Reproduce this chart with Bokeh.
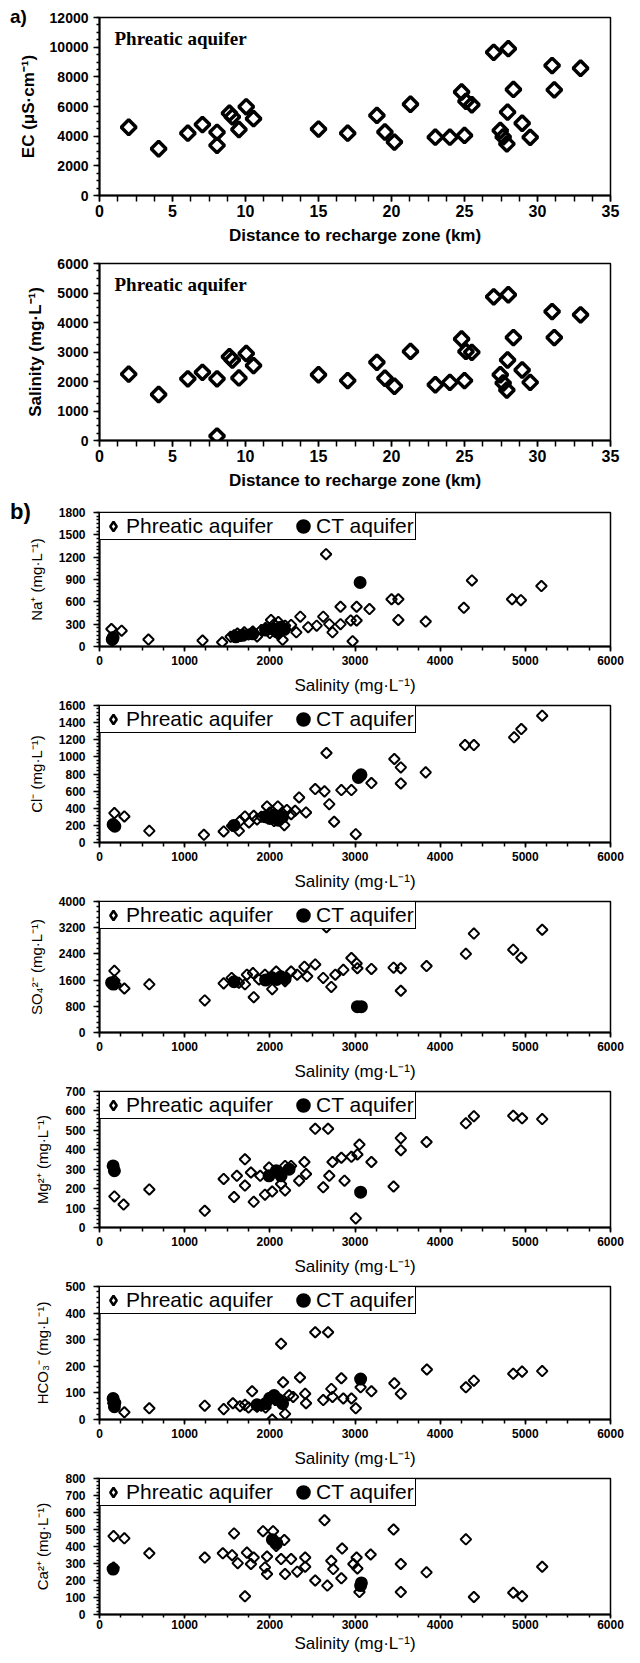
import numpy as np
from bokeh.plotting import figure
from bokeh.models import Range1d, SingleIntervalTicker, Label, Legend, LegendItem, Div
from bokeh.layouts import column
from bokeh.embed import file_html
from bokeh.resources import INLINE

SANS = "Liberation Sans"
SERIF = "Liberation Serif"

# ---------------- data: panel a ----------------
dist_km = [2.0, 4.05, 6.05, 7.05, 8.05, 8.05, 8.9, 9.1, 9.55, 10.05, 10.55, 15.0, 17.0, 19.0, 19.55,
           20.2, 21.3, 23.0, 24.0, 25.0, 24.8, 25.1, 25.5, 27.0, 28.0, 28.35, 27.95, 27.45, 27.65,
           27.9, 28.95, 29.5, 31.0, 31.15, 32.95]
ec_us = [4600, 3150, 4200, 4780, 4260, 3380, 5550, 5300, 4450, 5980, 5180, 4480, 4200, 5400, 4280,
         3600, 6150, 3930, 3930, 4050, 6980, 6350, 6120, 9650, 9900, 7150, 5620, 4380, 3950,
         3480, 4870, 3920, 8760, 7120, 8580]
sal_a = [2250, 1560, 2090, 2310, 2090, 150, 2840, 2730, 2120, 2950, 2540, 2230, 2030, 2650, 2110,
         1840, 3020, 1890, 1970, 2030, 3440, 3020, 2990, 4870, 4940, 3490, 2730, 2230, 1950,
         1710, 2390, 1970, 4370, 3490, 4260]

# ---------------- data: panel b ----------------
na_sal = [140, 260, 150, 575, 1210, 1440, 1540, 1580, 1620, 1660, 1700, 1750, 1800, 1850, 1900, 1950,
          2000, 2014, 2050, 2100, 2100, 2150, 2180, 2250, 2311, 2358, 2450, 2550, 2627, 2660, 2698,
          2736, 2830, 2830, 2950, 2972, 3019, 3019, 3170, 3429, 3509, 3509, 3830, 4278, 4373, 4844,
          4948, 5189]
na_val = [235, 212, 85, 93, 80, 57, 130, 150, 175, 140, 190, 160, 200, 135, 220, 250,
          180, 357, 300, 160, 330, 90, 280, 290, 190, 401, 260, 280, 401, 1240, 300,
          190, 534, 300, 350, 71, 534, 350, 503, 635, 635, 357, 335, 520, 887, 635,
          622, 812]
na_ct_sal = [150, 160, 1600, 1680, 1800, 1950, 2030, 2080, 2130, 2170, 3060]
na_ct_val = [95, 120, 130, 150, 170, 220, 240, 200, 260, 230, 860]

cl_sal = [175, 175, 292, 585, 1226, 1458, 1557, 1637, 1650, 1708, 1755, 1811, 1850, 1900, 1967, 2000,
          2050, 2094, 2150, 2170, 2200, 2250, 2297, 2344, 2425, 2533, 2642, 2665, 2698, 2755, 2840,
          2958, 3009, 3193, 3462, 3538, 3538, 3830, 4292, 4396, 4868, 4953, 5198]
cl_val = [343, 195, 304, 136, 90, 129, 195, 136, 250, 304, 234, 312, 270, 300, 421, 350,
          250, 421, 340, 203, 380, 330, 370, 526, 351, 624, 597, 1045, 448, 242, 612,
          612, 97, 694, 975, 877, 690, 819, 1138, 1138, 1228, 1325, 1481]
cl_ct_sal = [160, 180, 1580, 1950, 2000, 2050, 2100, 2150, 3040, 3070]
cl_ct_val = [210, 190, 200, 300, 280, 320, 260, 300, 760, 790]

so4_sal = [175, 175, 189, 292, 585, 1236, 1458, 1552, 1637, 1708, 1731, 1811, 1802, 1873, 1943, 2028,
           2075, 2179, 2250, 2321, 2406, 2439, 2533, 2627, 2665, 2722, 2769, 2863, 2958, 3019, 3028,
           3193, 3453, 3538, 3538, 3840, 4302, 4396, 4858, 4953, 5198]
so4_val = [1882, 1588, 1470, 1343, 1470, 980, 1500, 1667, 1520, 1470, 1765, 1078, 1814, 1618, 1765, 1324,
           1863, 1569, 1863, 1765, 2010, 1716, 2078, 1667, 3216, 1392, 1765, 1912, 2275, 2108, 1961,
           1941, 1980, 1961, 1275, 2029, 2402, 3020, 2529, 2284, 3137]
so4_ct_sal = [142, 160, 1580, 1950, 2020, 2080, 2130, 2180, 3028, 3075]
so4_ct_val = [1520, 1480, 1550, 1600, 1680, 1620, 1700, 1650, 790, 790]

mg_sal = [175, 283, 585, 1236, 1458, 1580, 1613, 1708, 1708, 1778, 1811, 1887, 1943, 1991, 2028, 2132,
          2179, 2179, 2250, 2344, 2406, 2425, 2533, 2684, 2627, 2698, 2736, 2840, 2877, 2958, 3052,
          3028, 3009, 3193, 3453, 3538, 3538, 3840, 4302, 4396, 4858, 4962, 5198]
mg_val = [160, 118, 196, 86, 250, 157, 266, 351, 216, 283, 132, 266, 169, 309, 185, 224,
          191, 317, 317, 241, 337, 275, 508, 508, 207, 266, 337, 359, 241, 364, 427,
          376, 47, 337, 211, 460, 398, 440, 536, 573, 575, 562, 558]
mg_ct_sal = [160, 175, 1991, 2075, 2132, 2226, 3066]
mg_ct_val = [317, 292, 266, 292, 266, 300, 182]

hco3_sal = [160, 292, 585, 1236, 1458, 1566, 1650, 1708, 1750, 1792, 1850, 1900, 1950, 2028, 2061, 2132,
            2156, 2179, 2226, 2274, 2354, 2415, 2425, 2533, 2684, 2627, 2722, 2736, 2840, 2863, 2958,
            3009, 3066, 3193, 3462, 3538, 3844, 4302, 4396, 4858, 4962, 5198]
hco3_val = [61, 27, 42, 52, 39, 61, 50, 55, 45, 106, 48, 52, 45, 0, 73, 285,
            140, 21, 91, 85, 158, 97, 61, 328, 328, 73, 115, 85, 155, 79, 79,
            42, 121, 106, 136, 97, 188, 121, 146, 172, 180, 182]
hco3_ct_sal = [160, 175, 180, 1850, 1950, 2000, 2050, 2100, 2150, 3066]
hco3_ct_val = [79, 48, 62, 55, 60, 80, 90, 75, 60, 152]

ca_sal = [165, 165, 292, 585, 1236, 1448, 1580, 1557, 1623, 1731, 1708, 1778, 1811, 1920, 1943, 1967,
          1967, 2038, 2038, 2075, 2132, 2170, 2179, 2250, 2321, 2415, 2415, 2533, 2642, 2675, 2722,
          2745, 2849, 2840, 2981, 3019, 3028, 3052, 3184, 3453, 3538, 3538, 3840, 4302, 4396, 4858,
          4962, 5198]
ca_val = [461, 277, 448, 360, 335, 360, 477, 349, 302, 364, 107, 297, 335, 490, 277, 341,
          238, 490, 432, 403, 326, 438, 238, 326, 252, 335, 281, 200, 554, 170, 316,
          267, 388, 213, 297, 335, 271, 132, 353, 500, 297, 132, 248, 442, 103, 128,
          107, 281]
ca_ct_sal = [160, 2030, 2080, 3066, 3075]
ca_ct_val = [267, 440, 420, 170, 186]

W = 640


def base(width, height, top, bottom, left, right, xr, yr):
    p = figure(width=width, height=height, x_range=Range1d(*xr), y_range=Range1d(*yr),
               min_border_left=left, min_border_right=right, min_border_top=top,
               min_border_bottom=bottom, output_backend="svg", toolbar_location=None)
    p.xgrid.grid_line_color = None
    p.ygrid.grid_line_color = None
    p.outline_line_color = "black"
    p.outline_line_width = 1.5
    p.outline_line_alpha = 1.0
    p.background_fill_color = "white"
    p.border_fill_color = "white"
    for ax in (p.xaxis, p.yaxis):
        ax.axis_line_width = 2
        ax.axis_line_color = "black"
        ax.major_tick_line_width = 1.5
        ax.minor_tick_line_width = 1.5
        ax.major_tick_line_color = "black"
        ax.minor_tick_line_color = "black"
        ax.major_tick_in = 0
        ax.minor_tick_in = 0
        ax.major_label_text_color = "black"
        ax.axis_label_text_color = "black"
    return p


def panel_a(x, y, ymax, yint, yminor, ylabel, height, top, frame_h, bottom):
    p = base(W, height, top, bottom, 99, 20, (0, 35), (0, ymax))
    p.scatter(x, y, marker="square", angle=np.pi / 4, size=10.5, fill_color=None,
              line_color="black", line_width=3.5)
    p.xaxis.ticker = SingleIntervalTicker(interval=5, num_minor_ticks=4)
    p.yaxis.ticker = SingleIntervalTicker(interval=yint, num_minor_ticks=yminor)
    p.xaxis.major_tick_out = 6
    p.xaxis.minor_tick_out = 6
    p.yaxis.major_tick_out = 6
    p.yaxis.minor_tick_out = 3
    p.xaxis.major_label_standoff = 3
    p.yaxis.major_label_standoff = 5
    p.xaxis.major_label_text_font = SANS
    p.xaxis.major_label_text_font_style = "bold"
    p.xaxis.major_label_text_font_size = "16px"
    p.yaxis.major_label_text_font = SANS
    p.yaxis.major_label_text_font_style = "bold"
    p.yaxis.major_label_text_font_size = "14px"
    p.xaxis.axis_label = "Distance to recharge zone (km)"
    p.yaxis.axis_label = ylabel
    for ax in (p.xaxis, p.yaxis):
        ax.axis_label_text_font = SANS
        ax.axis_label_text_font_style = "bold"
        ax.axis_label_text_font_size = "17px"
    p.xaxis.axis_label_standoff = 6
    p.yaxis.axis_label_standoff = 9
    p.add_layout(Label(x=15, y=frame_h - 21, x_units="screen", y_units="screen",
                       text="Phreatic aquifer", text_font=SERIF, text_font_style="bold",
                       text_font_size="19px", text_baseline="middle", text_color="black"))
    return p


def panel_b(xs, ys, cx, cy, ymax, yint, yminor, ylabel, height, top, bottom,
            xstand=4, xtick=5, xlabstand=8):
    p = base(W, height, top, bottom, 93, 30, (0, 6000), (0, ymax))
    p.scatter(xs, ys, marker="square", angle=np.pi / 4, size=7.5, fill_color=None,
              line_color="black", line_width=2)
    r2 = p.scatter(cx, cy, marker="circle", size=8, fill_color="black",
                   line_color="black", line_width=5)
    # legend key for the open diamonds (legend keys ignore marker rotation);
    # a hidden renderer over the first sample, used only by the legend
    rkey = p.scatter(xs[:1], ys[:1], marker="diamond", size=8, fill_color=None,
                     line_color="black", line_width=2.5, visible=False)
    p.xaxis.ticker = SingleIntervalTicker(interval=1000, num_minor_ticks=4)
    p.yaxis.ticker = SingleIntervalTicker(interval=yint, num_minor_ticks=yminor)
    p.xaxis.major_tick_out = xtick
    p.xaxis.minor_tick_out = max(xtick - 1, 2)
    p.yaxis.major_tick_out = 6
    p.yaxis.minor_tick_out = 3
    p.xaxis.major_label_standoff = xstand
    p.yaxis.major_label_standoff = 8
    for ax in (p.xaxis, p.yaxis):
        ax.major_label_text_font = SANS
        ax.major_label_text_font_style = "bold"
        ax.major_label_text_font_size = "12px"
        ax.axis_label_text_font = SANS
        ax.axis_label_text_font_style = "normal"
    p.xaxis.axis_label = "Salinity (mg·L⁻¹)"
    p.xaxis.axis_label_text_font_size = "17px"
    p.xaxis.axis_label_standoff = xlabstand
    p.yaxis.axis_label = ylabel
    p.yaxis.axis_label_text_font_size = "15px"
    p.yaxis.axis_label_standoff = 11
    leg = Legend(items=[LegendItem(label="Phreatic aquifer", renderers=[rkey]),
                        LegendItem(label="CT aquifer", renderers=[r2])],
                 orientation="horizontal", location="top_left", margin=0, padding=1,
                 spacing=18, glyph_width=24, glyph_height=24, label_standoff=1,
                 label_height=20, label_text_font=SANS, label_text_font_size="21px",
                 label_text_color="black", border_line_color="black", border_line_width=1.5,
                 border_line_alpha=1.0, background_fill_color="white", background_fill_alpha=1.0,
                 inactive_fill_alpha=0.0)
    p.add_layout(leg)
    return p


def tag(text, size, pad_top, fig_height):
    """Panel letter laid over the top-left corner of the figure placed just before it."""
    h = size + pad_top + 2
    return Div(text=(f'<div style="font-family: {SANS}; font-weight: bold; font-size: {size}px; '
                     f'line-height: {size}px; padding: {pad_top}px 0 0 10px; margin: 0; '
                     f'color: black;">{text}</div>'),
               width=40, height=h, margin=(-fig_height, 0, fig_height - h, 0))


pa1 = panel_a(dist_km, ec_us, 12000, 2000, 4, "EC (μS·cm⁻¹)", 250, 17, 178, 55)
pa2 = panel_a(dist_km, sal_a, 6000, 1000, 4, "Salinity (mg·L⁻¹)", 246, 13, 177, 56)

pna = panel_b(na_sal, na_val, na_ct_sal, na_ct_val, 1800, 300, 6, "Na⁺ (mg·L⁻¹)", 201, 16, 47)
pcl = panel_b(cl_sal, cl_val, cl_ct_sal, cl_ct_val, 1600, 200, 5, "Cl⁻ (mg·L⁻¹)", 196, 8, 51)
pso = panel_b(so4_sal, so4_val, so4_ct_sal, so4_ct_val, 4000, 800, 5, "SO₄²⁻ (mg·L⁻¹)", 190, 8, 46)
pmg = panel_b(mg_sal, mg_val, mg_ct_sal, mg_ct_val, 700, 100, 5, "Mg²⁺ (mg·L⁻¹)", 195, 8, 49)
phc = panel_b(hco3_sal, hco3_val, hco3_ct_sal, hco3_ct_val, 500, 100, 5, "HCO₃⁻ (mg·L⁻¹)", 192, 8, 47)
pca = panel_b(ca_sal, ca_val, ca_ct_sal, ca_ct_val, 800, 100, 5, "Ca²⁺ (mg·L⁻¹)", 185, 8, 39,
              xstand=1, xtick=4, xlabstand=2)

layout = column(pa1, tag("a)", 19, 7, 250),
                pa2,
                pna, tag("b)", 22, 5, 201),
                pcl, pso, pmg, phc, pca, spacing=0)

open("out.html", "w").write(file_html(layout, INLINE))
